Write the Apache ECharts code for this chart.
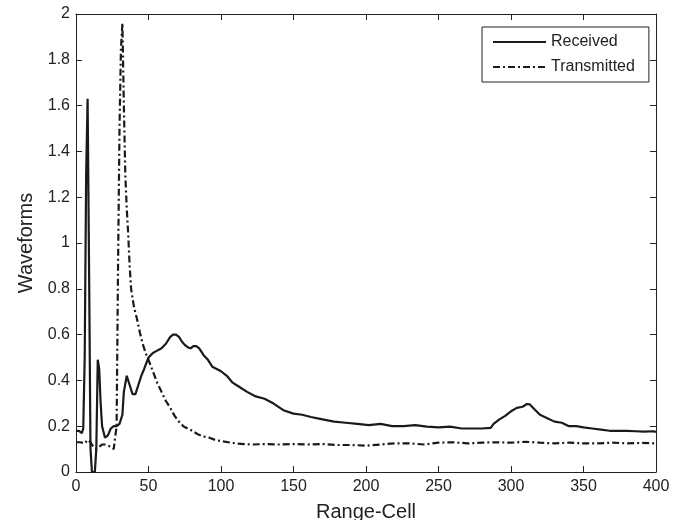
<!DOCTYPE html>
<html><head><meta charset="utf-8">
<script src="https://cdn.jsdelivr.net/npm/echarts@6/dist/echarts.min.js"></script>
<style>html,body{margin:0;padding:0;background:#fff}#c{width:686px;height:520px}</style>
</head><body><div id="c"></div>
<script>
var xTicks = [0,50,100,150,200,250,300,350,400];
var yTicks = [0,0.2,0.4,0.6,0.8,1,1.2,1.4,1.6,1.8,2];
var seriesNames = ['Received','Transmitted'];
var recX = [0,2,4,5,6,7,8,9,10,11,12,13,14,15,16,17,18,20,22,24,26,28,30,32,33,35,37,39,41,43,45,47,50,53,56,59,62,65,67,69,71,73,75,77,79,81,83,85,88,91,94,97,100,104,108,113,118,124,130,136,143,150,156,162,170,178,186,194,202,210,218,226,234,242,250,258,266,274,280,286,288,292,296,300,304,308,311,313,316,320,325,330,335,340,345,350,356,362,368,374,380,386,392,398,400];
var recY = [0.18,0.18,0.17,0.19,0.5,1.3,1.63,0.9,0.1,0,0,0,0.1,0.49,0.45,0.3,0.2,0.15,0.16,0.19,0.2,0.2,0.21,0.25,0.35,0.42,0.38,0.34,0.34,0.38,0.42,0.45,0.5,0.52,0.53,0.54,0.56,0.59,0.6,0.6,0.59,0.57,0.555,0.545,0.54,0.55,0.55,0.54,0.51,0.49,0.46,0.45,0.44,0.42,0.39,0.37,0.35,0.33,0.32,0.3,0.27,0.255,0.25,0.24,0.23,0.22,0.215,0.21,0.205,0.21,0.2,0.2,0.205,0.198,0.195,0.198,0.19,0.19,0.19,0.193,0.21,0.23,0.245,0.265,0.28,0.285,0.297,0.295,0.275,0.25,0.235,0.22,0.215,0.2,0.2,0.195,0.19,0.185,0.18,0.18,0.18,0.178,0.176,0.178,0.175];
var trX = [0,3,6,8,10,12,14,16,18,20,22,24,26,27,28,29,30,31,32,33,34,35,36,37,38,40,42,44,46,48,50,53,56,59,62,65,68,71,74,77,80,84,88,92,96,100,105,110,116,122,130,140,150,160,170,180,190,200,210,220,230,240,250,260,270,280,290,300,310,320,330,340,350,360,370,380,390,400];
var trY = [0.13,0.13,0.125,0.14,0.13,0.11,0.1,0.11,0.12,0.12,0.115,0.11,0.1,0.1,0.2,0.9,1.5,1.85,1.96,1.6,1.3,1.15,1.04,0.9,0.8,0.72,0.67,0.61,0.56,0.52,0.49,0.44,0.39,0.35,0.31,0.28,0.245,0.22,0.2,0.19,0.18,0.165,0.155,0.15,0.14,0.135,0.13,0.125,0.122,0.12,0.122,0.12,0.122,0.12,0.122,0.118,0.118,0.115,0.12,0.125,0.125,0.12,0.128,0.13,0.125,0.128,0.13,0.128,0.132,0.128,0.125,0.128,0.125,0.125,0.128,0.125,0.127,0.125];

function pairs(xs, ys){ return xs.map(function(x,i){ return [x, ys[i]]; }); }
var font = 'Liberation Sans, Arial, sans-serif';
var chart = echarts.init(document.getElementById('c'), null, {renderer:'canvas'});
var axisBase = {
  type:'value', axisLine:{show:true, onZero:false, lineStyle:{color:'#222', width:1}},
  axisTick:{show:true, inside:true, length:6, lineStyle:{color:'#222'}},
  splitLine:{show:false}
};
chart.setOption({
  animation:false,
  backgroundColor:'#fff',
  grid:{left:76, right:30, top:14, bottom:48, show:false, containLabel:false, outerBoundsMode:'none'},
  legend:{
    orient:'vertical', left:482, top:27, padding:[7,14,7,10],
    borderColor:'#222', borderWidth:1, backgroundColor:'#fff',
    itemWidth:53, itemHeight:14, itemGap:9,
    itemStyle:{opacity:0},
    textStyle:{fontFamily:font, fontSize:16, color:'#222'},
    data:seriesNames
  },
  xAxis:[
    Object.assign({}, axisBase, {min:0, max:400, interval:50, position:'bottom',
      name:'Range-Cell', nameLocation:'middle', nameGap:30,
      nameTextStyle:{fontFamily:font, fontSize:20, color:'#222'},
      axisLabel:{fontFamily:font, fontSize:16, color:'#222', margin:7}}),
    Object.assign({}, axisBase, {min:0, max:400, interval:50, position:'top', axisLabel:{show:false}})
  ],
  yAxis:[
    Object.assign({}, axisBase, {min:0, max:2, interval:0.2, position:'left',
      name:'Waveforms', nameLocation:'middle', nameGap:38,
      nameTextStyle:{fontFamily:font, fontSize:20, color:'#222'},
      axisLabel:{fontFamily:font, fontSize:16, color:'#222', margin:6,
        formatter:function(v){ return String(Math.round(v*10)/10); }}}),
    Object.assign({}, axisBase, {min:0, max:2, interval:0.2, position:'right', axisLabel:{show:false}})
  ],
  series:[
    {name:seriesNames[0], type:'line', data:pairs(recX, recY), showSymbol:false, symbol:'none',
     lineStyle:{color:'#1a1a1a', width:2.2}, itemStyle:{color:'#1a1a1a'}, clip:true},
    {name:seriesNames[1], type:'line', data:pairs(trX, trY), showSymbol:false, symbol:'none',
     lineStyle:{color:'#1a1a1a', width:2.2, type:[7,3,2,3]}, itemStyle:{color:'#1a1a1a'}, clip:true}
  ]
});
</script></body></html>
